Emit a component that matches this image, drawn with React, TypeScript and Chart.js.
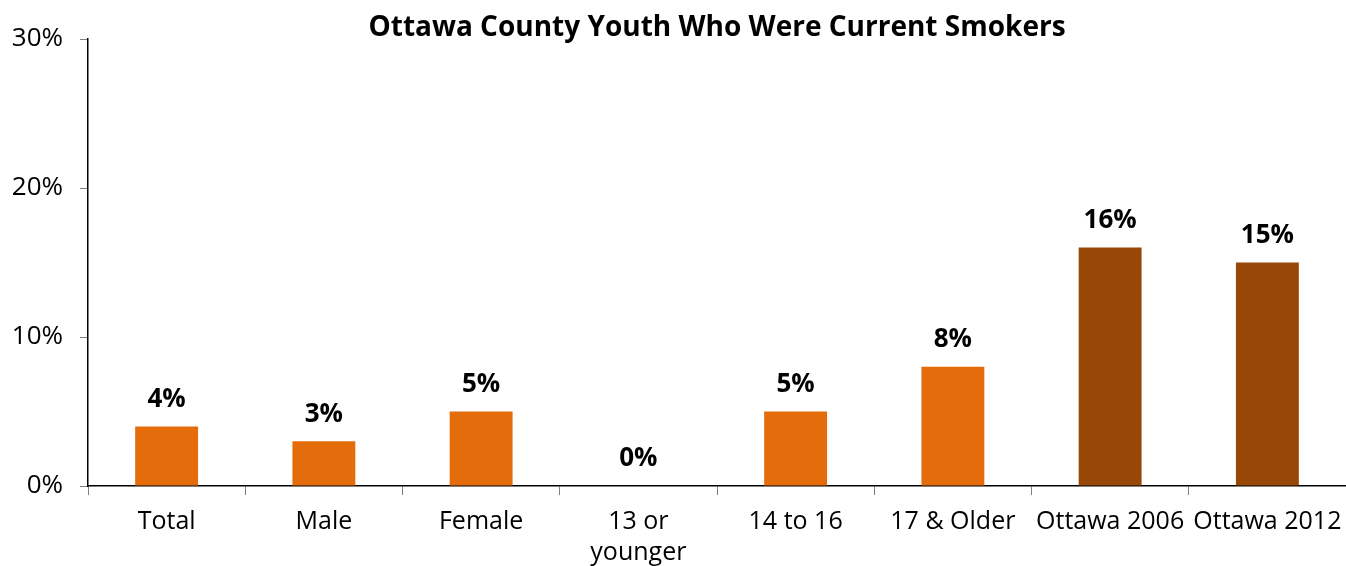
import React, { useEffect, useRef } from "react";
import { Chart, registerables } from "chart.js";

Chart.register(...registerables);

const TITLE = "Ottawa County Youth Who Were Current Smokers";
const categories: (string | string[])[] = [
  "Total",
  "Male",
  "Female",
  ["13 or", "younger"],
  "14 to 16",
  "17 & Older",
  "Ottawa 2006",
  "Ottawa 2012",
];
const values = [4, 3, 5, 0, 5, 8, 16, 15];
const barColors = [
  "#E46C0A",
  "#E46C0A",
  "#E46C0A",
  "#E46C0A",
  "#E46C0A",
  "#E46C0A",
  "#974706",
  "#974706",
];
const yTicks = [0, 10, 20, 30];

const FONT = "'Open Sans', 'Noto Sans', sans-serif";

const titlePlugin = {
  id: "customTitle",
  afterDraw(chart: any) {
    const { ctx, chartArea } = chart;
    ctx.save();
    ctx.font = `bold 28px ${FONT}`;
    ctx.fillStyle = "#000";
    ctx.textAlign = "center";
    ctx.textBaseline = "middle";
    ctx.fillText(TITLE, (chartArea.left + chartArea.right) / 2, 28);
    ctx.restore();
  },
};

const labelPlugin = {
  id: "valueLabels",
  afterDatasetsDraw(chart: any) {
    const { ctx } = chart;
    const meta = chart.getDatasetMeta(0);
    ctx.save();
    ctx.font = `bold 26px ${FONT}`;
    ctx.fillStyle = "#000";
    ctx.textAlign = "center";
    ctx.textBaseline = "middle";
    meta.data.forEach((bar: any, i: number) => {
      ctx.fillText(values[i] + "%", bar.x, bar.y - 27);
    });
    ctx.restore();
  },
};

export default function App() {
  const ref = useRef<HTMLCanvasElement>(null);
  useEffect(() => {
    if (!ref.current) return;
    const chart = new Chart(ref.current, {
      type: "bar",
      data: {
        labels: categories,
        datasets: [
          {
            data: values,
            backgroundColor: barColors,
            barPercentage: 0.4,
            categoryPercentage: 1,
          },
        ],
      },
      options: {
        animation: false,
        responsive: false,
        maintainAspectRatio: false,
        layout: { padding: { top: 39, right: 0, left: 0, bottom: 0 } },
        plugins: {
          legend: { display: false },
          title: { display: false },
          tooltip: { enabled: false },
        },
        scales: {
          x: {
            offset: true,
            grid: {
              offset: true,
              drawOnChartArea: false,
              drawTicks: true,
              tickLength: 9,
              color: "#808080",
            },
            border: { color: "#000", width: 1.5 },
            ticks: {
              color: "#000",
              font: { family: FONT, size: 25, lineHeight: 1.24 },
              padding: 11,
              maxRotation: 0,
              autoSkip: false,
            },
            afterFit: (scale: any) => {
              scale.height = 80;
              scale.paddingLeft = 0;
              scale.paddingRight = 0;
            },
          },
          y: {
            min: 0,
            max: 30,
            afterBuildTicks: (scale: any) => {
              scale.ticks = yTicks.map((v) => ({ value: v }));
            },
            grid: {
              drawOnChartArea: false,
              drawTicks: true,
              tickLength: 8,
              color: "#808080",
            },
            border: { color: "#000", width: 1.5 },
            ticks: {
              color: "#000",
              font: { family: FONT, size: 26 },
              padding: 17,
              callback: (v: any) => v + "%",
            },
            afterFit: (scale: any) => {
              scale.width = 88;
            },
          },
        },
      },
      plugins: [titlePlugin, labelPlugin],
    });
    return () => chart.destroy();
  }, []);
  return (
    <div style={{ position: "fixed", left: 0, top: 0, width: 1346, height: 566, background: "#fff" }}>
      <canvas ref={ref} width={1346} height={566} style={{ width: 1346, height: 566 }} />
    </div>
  );
}
